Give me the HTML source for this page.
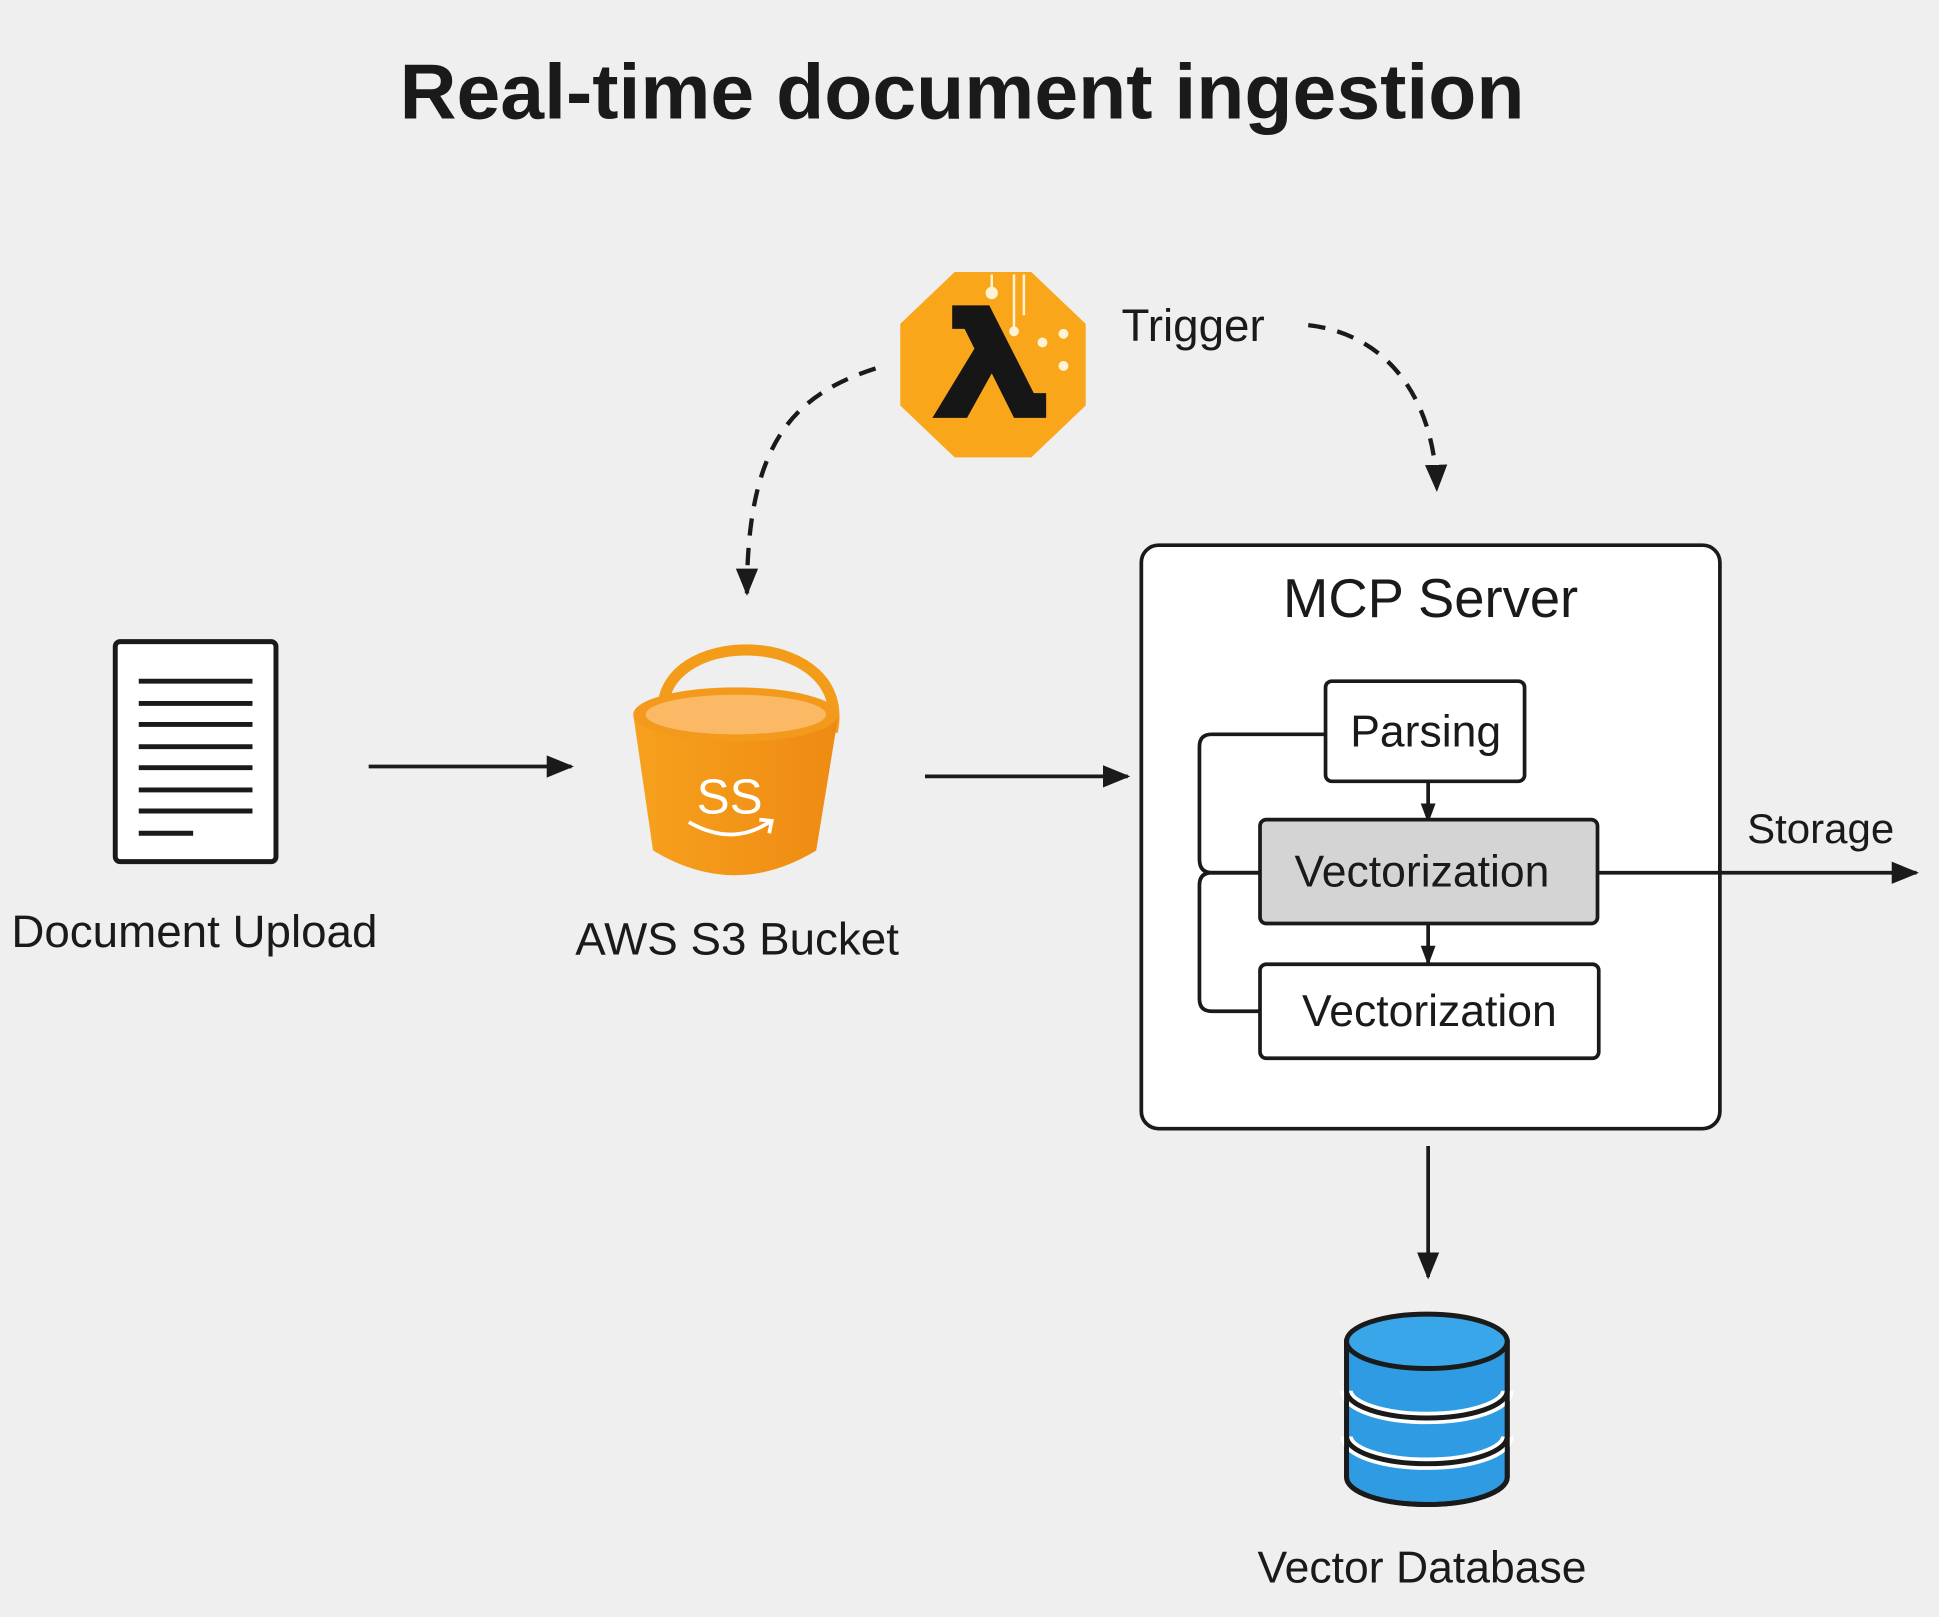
<!DOCTYPE html>
<html><head><meta charset="utf-8"><style>
html,body{margin:0;padding:0;background:#efefef;}
svg{display:block;}
text{font-family:"Liberation Sans",sans-serif;fill:#1a1a1a;}
</style></head><body>
<svg width="1939" height="1617" viewBox="0 0 1568 1308" xmlns="http://www.w3.org/2000/svg">
<defs>
<marker id="ahb" markerWidth="22" markerHeight="22" refX="20" refY="11" orient="auto" markerUnits="userSpaceOnUse">
<path d="M0,2 L22,11 L0,20 z" fill="#1a1a1a"/></marker>
<marker id="ahs" markerWidth="16" markerHeight="16" refX="14" refY="8" orient="auto" markerUnits="userSpaceOnUse">
<path d="M0,2 L16,8 L0,14 z" fill="#1a1a1a"/></marker>
<linearGradient id="bk" x1="0" x2="1"><stop offset="0" stop-color="#f7a11e"/><stop offset="1" stop-color="#ee8a12"/></linearGradient>
</defs>
<rect width="1568" height="1308" fill="#efefef"/>
<text x="778" y="96" font-size="63" font-weight="bold" text-anchor="middle" textLength="910" lengthAdjust="spacingAndGlyphs">Real-time document ingestion</text>

<!-- document -->
<rect x="93" y="519" width="130" height="178" rx="4" fill="#fff" stroke="#1a1a1a" stroke-width="4"/>
<g stroke="#1a1a1a" stroke-width="4">
<line x1="112" y1="551" x2="204" y2="551"/><line x1="112" y1="569" x2="204" y2="569"/>
<line x1="112" y1="586" x2="204" y2="586"/><line x1="112" y1="604" x2="204" y2="604"/>
<line x1="112" y1="621" x2="204" y2="621"/><line x1="112" y1="639" x2="204" y2="639"/>
<line x1="112" y1="656" x2="204" y2="656"/><line x1="112" y1="674" x2="156" y2="674"/>
</g>
<text x="157" y="766" font-size="37" text-anchor="middle">Document Upload</text>
<line x1="298" y1="620" x2="462" y2="620" stroke="#1a1a1a" stroke-width="3" marker-end="url(#ahb)"/>

<!-- bucket -->
<path d="M536,572 C540,505 690,510 673,592" fill="none" stroke="#f39c1a" stroke-width="9"/>
<path d="M512,578 L528,688 Q594,728 660,688 L678,578 Z" fill="url(#bk)"/>
<ellipse cx="595" cy="578" rx="83" ry="22" fill="#f39a1c"/>
<ellipse cx="595" cy="578" rx="73" ry="16" fill="#fbb966"/>
<text x="590" y="658" font-size="40" text-anchor="middle" style="fill:#fff">SS</text>
<path d="M557,665 Q592,685 622,665 M614,663 L624,664 L622,674" fill="none" stroke="#fff" stroke-width="3"/>
<text x="596" y="772" font-size="37" text-anchor="middle">AWS S3 Bucket</text>
<line x1="748" y1="628" x2="912" y2="628" stroke="#1a1a1a" stroke-width="3" marker-end="url(#ahb)"/>

<!-- lambda -->
<polygon points="772,220 834,220 878,262 878,328 834,370 772,370 728,328 728,262" fill="#faa61a"/>
<path d="M770,247 L800,247 L836,318 L846,318 L846,338 L820,338 L802,302 L782,338 L754,338 L788,282 L780,266 L770,266 Z" fill="#161616"/>
<g stroke="#fff3d6" stroke-width="2" fill="#fff3d6"><line x1="802" y1="222" x2="802" y2="235"/><circle cx="802" cy="237" r="4"/>
<line x1="820" y1="222" x2="820" y2="265"/><circle cx="820" cy="268" r="3"/>
<line x1="828" y1="222" x2="828" y2="255"/><circle cx="843" cy="277" r="3"/><circle cx="860" cy="270" r="3"/><circle cx="860" cy="296" r="3"/></g>
<text x="907" y="276" font-size="37">Trigger</text>
<path d="M708,298 C640,320 604,360 604,480" fill="none" stroke="#1a1a1a" stroke-width="3.5" stroke-dasharray="14,10" marker-end="url(#ahb)"/>
<path d="M1058,263 C1120,270 1160,320 1162,396" fill="none" stroke="#1a1a1a" stroke-width="3.5" stroke-dasharray="14,10" marker-end="url(#ahb)"/>

<!-- MCP -->
<rect x="923" y="441" width="468" height="472" rx="14" fill="#fff" stroke="#1a1a1a" stroke-width="3"/>
<text x="1157" y="499" font-size="44" text-anchor="middle">MCP Server</text>
<g fill="none" stroke="#1a1a1a" stroke-width="3">
<path d="M1072,594 L980,594 Q970,594 970,604 L970,695 Q970,706 980,706 L1019,706"/>
<path d="M1019,706 L980,706 Q970,706 970,716 L970,808 Q970,818 980,818 L1019,818"/>
</g>
<rect x="1072" y="551" width="161" height="81" rx="5" fill="#fff" stroke="#1a1a1a" stroke-width="3"/>
<text x="1153" y="604" font-size="36" text-anchor="middle">Parsing</text>
<line x1="1155" y1="632" x2="1155" y2="664" stroke="#1a1a1a" stroke-width="3" marker-end="url(#ahs)"/>
<rect x="1019" y="663" width="273" height="84" rx="5" fill="#d4d4d4" stroke="#1a1a1a" stroke-width="3"/>
<text x="1150" y="717" font-size="36" text-anchor="middle">Vectorization</text>
<line x1="1155" y1="747" x2="1155" y2="779" stroke="#1a1a1a" stroke-width="3" marker-end="url(#ahs)"/>
<rect x="1019" y="780" width="274" height="76" rx="5" fill="#fff" stroke="#1a1a1a" stroke-width="3"/>
<text x="1156" y="830" font-size="36" text-anchor="middle">Vectorization</text>
<line x1="1292" y1="706" x2="1550" y2="706" stroke="#1a1a1a" stroke-width="3" marker-end="url(#ahb)"/>
<text x="1413" y="682" font-size="34">Storage</text>
<line x1="1155" y1="927" x2="1155" y2="1033" stroke="#1a1a1a" stroke-width="3" marker-end="url(#ahb)"/>

<!-- DB -->
<g stroke="#1a1a1a" stroke-width="4">
<path d="M1089,1085 L1089,1195 A65,22 0 0 0 1219,1195 L1219,1085 Z" fill="#2e9be3"/>
<path d="M1089,1125 A65,22 0 0 0 1219,1125" fill="none" stroke="#fff" stroke-width="10"/>
<path d="M1089,1125 A65,22 0 0 0 1219,1125" fill="none"/>
<path d="M1089,1162 A65,22 0 0 0 1219,1162" fill="none" stroke="#fff" stroke-width="10"/>
<path d="M1089,1162 A65,22 0 0 0 1219,1162" fill="none"/>
<ellipse cx="1154" cy="1085" rx="65" ry="22" fill="#3aa6ea"/>
<path d="M1089,1085 L1089,1195 A65,22 0 0 0 1219,1195 L1219,1085" fill="none"/>
</g>
<text x="1150" y="1280" font-size="36" text-anchor="middle">Vector Database</text>
</svg>
</body></html>
